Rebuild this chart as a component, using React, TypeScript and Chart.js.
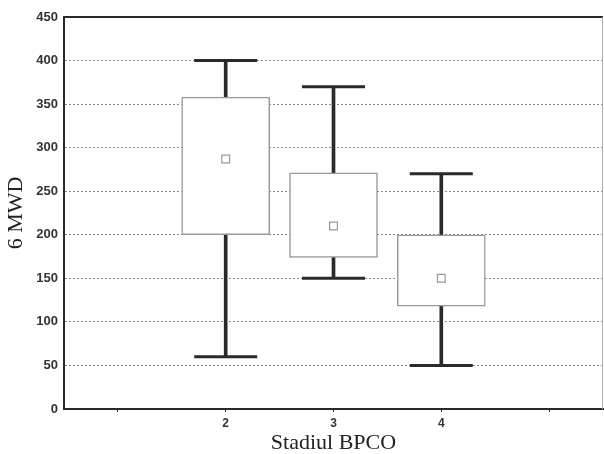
import React, { useEffect, useRef } from "react";
import { Chart, registerables } from "chart.js";

Chart.register(...registerables);

// Data
const axisSlots = ["1", "2", "3", "4", "5"];
const stages = ["2", "3", "4"];
const whiskerMin = [60, 150, 50];
const boxQ1 = [200, 174, 118];
const boxQ3 = [358, 271, 200];
const whiskerMax = [400, 370, 270];
const meanVals = [287, 210, 150];
const yTickMin = 0;
const yTickMax = 450;
const yTickStep = 50;

const dark = "#2a2a2a";
const boxGray = "#9a9a9a";

const framePlugin = {
  id: "frame",
  afterDraw(chart: any) {
    const { ctx, chartArea } = chart;
    ctx.save();
    ctx.strokeStyle = dark;
    ctx.lineWidth = 2;
    ctx.beginPath();
    ctx.moveTo(chartArea.left, chartArea.top);
    ctx.lineTo(chartArea.right, chartArea.top);
    ctx.stroke();
    ctx.strokeStyle = "#b0b0b0";
    ctx.lineWidth = 1;
    ctx.beginPath();
    ctx.moveTo(chartArea.right - 0.5, chartArea.top);
    ctx.lineTo(chartArea.right - 0.5, chartArea.bottom);
    ctx.stroke();
    ctx.restore();
  },
};

export default function App() {
  const ref = useRef<HTMLCanvasElement | null>(null);

  useEffect(() => {
    document.body.style.margin = "0";
    if (!ref.current) return;
    const pts = (vals: any[]) => stages.map((s, i) => ({ x: s, y: vals[i] }));
    const chart = new Chart(ref.current, {
      type: "bar",
      data: {
        labels: axisSlots,
        datasets: [
          {
            type: "line",
            label: "mean",
            data: pts(meanVals),
            showLine: false,
            pointStyle: "rect",
            pointRadius: 5.5,
            pointBorderWidth: 1.2,
            pointBorderColor: boxGray,
            pointBackgroundColor: "#ffffff",
            order: 0,
          } as any,
          {
            type: "line",
            label: "max",
            data: pts(whiskerMax),
            showLine: false,
            pointStyle: "line",
            pointRadius: 31.5,
            pointBorderWidth: 3,
            pointBorderColor: dark,
            order: 1,
          } as any,
          {
            type: "line",
            label: "min",
            data: pts(whiskerMin),
            showLine: false,
            pointStyle: "line",
            pointRadius: 31.5,
            pointBorderWidth: 3,
            pointBorderColor: dark,
            order: 1,
          } as any,
          {
            type: "bar",
            label: "box",
            data: stages.map((s, i) => ({ x: s, y: [boxQ1[i], boxQ3[i]] })),
            backgroundColor: "#ffffff",
            borderColor: boxGray,
            borderWidth: 1.5,
            borderSkipped: false,
            barThickness: 88,
            grouped: false,
            order: 2,
          } as any,
          {
            type: "bar",
            label: "whisker",
            data: stages.map((s, i) => ({ x: s, y: [whiskerMin[i], whiskerMax[i]] })),
            backgroundColor: dark,
            borderWidth: 0,
            barThickness: 3,
            grouped: false,
            order: 3,
          } as any,
        ],
      },
      options: {
        animation: false,
        responsive: true,
        maintainAspectRatio: false,
        layout: { autoPadding: false, padding: { top: 17, right: 1, left: 0, bottom: 0 } },
        plugins: {
          legend: { display: false },
          tooltip: { enabled: false },
        },
        scales: {
          x: {
            type: "category",
            offset: true,
            grid: {
              display: true,
              offset: false,
              drawOnChartArea: false,
              drawTicks: true,
              tickLength: 3,
              tickColor: dark,
              tickWidth: 1,
            },
            border: { display: true, color: dark, width: 2 },
            ticks: {
              color: "#333",
              font: { family: "Liberation Sans", size: 12, weight: "bold" },
              padding: 4,
              callback: function (this: any, v: any) {
                const lab = this.getLabelForValue(v);
                return stages.includes(lab) ? lab : "";
              },
            },
            title: {
              display: true,
              text: "Stadiul BPCO",
              color: "#222",
              font: { family: "Liberation Serif", size: 22 },
              padding: { top: 0, bottom: -2 },
            },
            afterFit(scale: any) {
              scale.height = 45;
            },
          },
          y: {
            min: yTickMin,
            max: yTickMax,
            ticks: {
              stepSize: yTickStep,
              color: "#333",
              padding: 6,
              font: { family: "Liberation Sans", size: 13, weight: "bold" },
            },
            grid: {
              color: (c: any) =>
                c.tick && (c.tick.value === yTickMin || c.tick.value === yTickMax)
                  ? "rgba(0,0,0,0)"
                  : "#8a8a8a",
              lineWidth: 1,
              drawTicks: false,
            },
            border: { display: true, color: dark, width: 2, dash: [2, 2] },
            title: {
              display: true,
              text: "6 MWD",
              color: "#222",
              font: { family: "Liberation Serif", size: 22 },
              padding: { top: 3, bottom: 0 },
            },
            afterFit(scale: any) {
              scale.width = 64;
            },
          },
        },
      },
      plugins: [framePlugin],
    });
    return () => chart.destroy();
  }, []);

  return (
    <div style={{ width: 604, height: 454, position: "relative", background: "#fff" }}>
      <canvas ref={ref} />
    </div>
  );
}
